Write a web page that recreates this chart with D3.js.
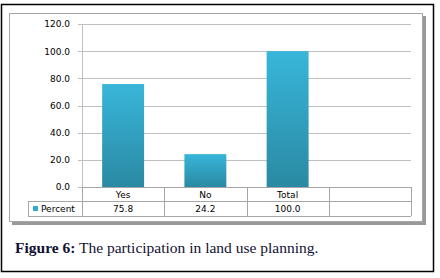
<!DOCTYPE html>
<html>
<head>
<meta charset="utf-8">
<script src="https://cdn.jsdelivr.net/npm/d3@7"></script>
<style>
body { margin: 0; background: #fff; }
svg { display: block; }
</style>
</head>
<body>
<div id="chart-area"></div>
<script>
var categories = ["Yes", "No", "Total", ""];
var percent = [75.8, 24.2, 100.0, null];
var yTicks = [0, 20, 40, 60, 80, 100, 120];
var seriesName = "Percent";

var W = 440, H = 278;
var svg = d3.select("#chart-area").append("svg")
    .attr("width", W)
    .attr("height", H);

var defs = svg.append("defs");
var grad = defs.append("linearGradient")
    .attr("id", "barGrad")
    .attr("x1", 0).attr("y1", 0).attr("x2", 0).attr("y2", 1);
grad.append("stop").attr("offset", "0%").attr("stop-color", "#38b6da");
grad.append("stop").attr("offset", "100%").attr("stop-color", "#2a89a3");

// outer black frame
svg.append("rect")
    .attr("x", 1.5).attr("y", 4.5)
    .attr("width", 432).attr("height", 267)
    .attr("fill", "none")
    .attr("stroke", "#000")
    .attr("stroke-width", 1.5);

// chart box with shadow
svg.append("rect")
    .attr("x", 12).attr("y", 16)
    .attr("width", 414).attr("height", 209)
    .attr("fill", "#999");
svg.append("rect")
    .attr("x", 9.5).attr("y", 13.5)
    .attr("width", 413).attr("height", 208)
    .attr("fill", "#fff")
    .attr("stroke", "#a6a6a6")
    .attr("stroke-width", 1);

var pLeft = 82, pRight = 411, pTop = 24, pBottom = 187;

var x = d3.scaleBand()
    .domain(categories)
    .range([pLeft, pRight])
    .paddingInner(0)
    .paddingOuter(0);
var y = d3.scaleLinear()
    .domain([0, 120])
    .range([pBottom, pTop]);

// grid lines
svg.append("g").selectAll("line")
    .data(yTicks)
    .enter().append("line")
    .attr("x1", pLeft - 4).attr("x2", pRight)
    .attr("y1", d => Math.round(y(d)) + 0.5)
    .attr("y2", d => Math.round(y(d)) + 0.5)
    .attr("stroke", "#bfbfbf")
    .attr("stroke-width", 1);

// y-axis line
svg.append("line")
    .attr("x1", pLeft + 0.5).attr("x2", pLeft + 0.5)
    .attr("y1", pTop).attr("y2", pBottom)
    .attr("stroke", "#bfbfbf");

var tf = "DejaVu Sans, Verdana, sans-serif";
var fs = "9px";

var yAxis = d3.axisLeft(y)
    .tickValues(yTicks)
    .tickFormat(d3.format(".1f"))
    .tickSize(0)
    .tickPadding(12);
var yaxg = svg.append("g")
    .attr("transform", "translate(" + pLeft + ",0)")
    .call(yAxis);
yaxg.select(".domain").remove();
yaxg.selectAll("text")
    .attr("font-family", tf)
    .attr("font-size", fs)
    .attr("fill", "#000");

// bars
var bw = x.bandwidth() * 0.51;
svg.append("g").selectAll("rect")
    .data(categories.map((c, i) => ({c: c, v: percent[i]})).filter(d => d.v != null))
    .enter().append("rect")
    .attr("x", d => x(d.c) + (x.bandwidth() - bw) / 2)
    .attr("y", d => y(d.v))
    .attr("width", bw)
    .attr("height", d => y(0) - y(d.v))
    .attr("fill", "url(#barGrad)");

// data table
var row1 = pBottom, row2 = 201, row3 = 216;
var tbl = svg.append("g")
    .attr("stroke", "#a6a6a6")
    .attr("stroke-width", 1)
    .attr("fill", "none");
tbl.append("line").attr("x1", pLeft).attr("x2", pRight).attr("y1", row1 + 0.5).attr("y2", row1 + 0.5);
tbl.append("line").attr("x1", 28).attr("x2", pRight).attr("y1", row2 + 0.5).attr("y2", row2 + 0.5);
tbl.append("line").attr("x1", 28).attr("x2", pRight).attr("y1", row3 + 0.5).attr("y2", row3 + 0.5);
tbl.append("line").attr("x1", 28.5).attr("x2", 28.5).attr("y1", row2).attr("y2", row3);
tbl.selectAll("line.v")
    .data(categories.concat(["end"]))
    .enter().append("line")
    .attr("class", "v")
    .attr("x1", (d, i) => Math.round(pLeft + i * x.bandwidth()) + 0.5)
    .attr("x2", (d, i) => Math.round(pLeft + i * x.bandwidth()) + 0.5)
    .attr("y1", row1).attr("y2", row3);

svg.append("g").selectAll("text")
    .data(categories)
    .enter().append("text")
    .attr("x", d => x(d) + x.bandwidth() / 2)
    .attr("y", row1 + 11)
    .attr("text-anchor", "middle")
    .attr("font-family", tf)
    .attr("font-size", fs)
    .text(d => d);
svg.append("g").selectAll("text")
    .data(categories.map((c, i) => ({c: c, v: percent[i]})))
    .enter().append("text")
    .attr("x", d => x(d.c) + x.bandwidth() / 2)
    .attr("y", row2 + 11)
    .attr("text-anchor", "middle")
    .attr("font-family", tf)
    .attr("font-size", fs)
    .text(d => d.v == null ? "" : d.v.toFixed(1));

// legend key in table
svg.append("rect")
    .attr("x", 33).attr("y", row2 + 5)
    .attr("width", 5).attr("height", 5)
    .attr("fill", "#33a9cb");
svg.append("text")
    .attr("x", 41).attr("y", row2 + 11)
    .attr("font-family", tf)
    .attr("font-size", fs)
    .text(seriesName);

// caption
var cap = svg.append("text")
    .attr("x", 15).attr("y", 253)
    .attr("font-family", "Liberation Serif, DejaVu Serif, serif")
    .attr("font-size", "15.5px")
    .attr("fill", "#111133");
cap.append("tspan").attr("font-weight", "bold").text("Figure 6:");
cap.append("tspan").text(" The participation in land use planning.");
</script>
</body>
</html>
